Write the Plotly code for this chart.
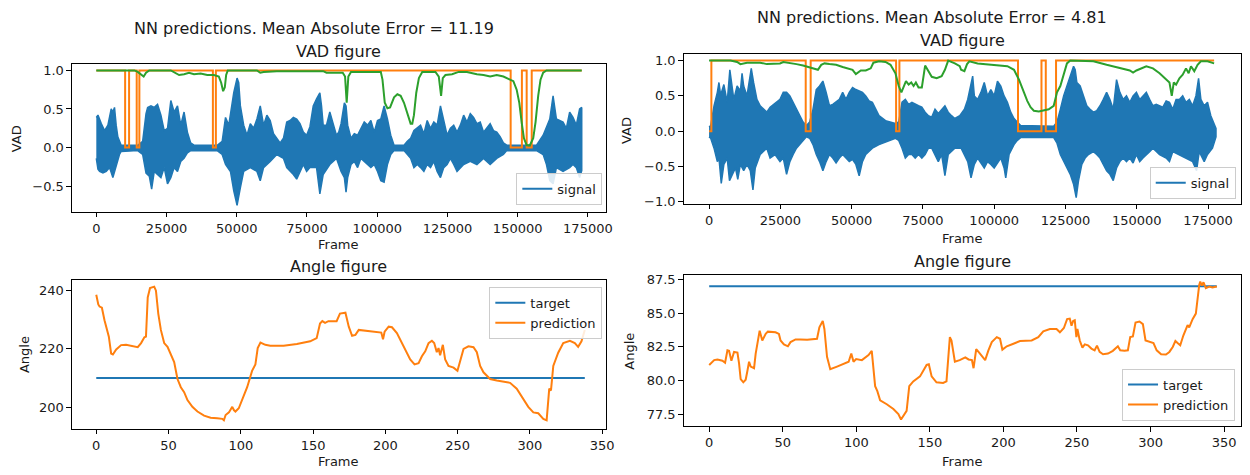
import plotly.graph_objects as go

# ---------------- DATA ----------------
# Left figure (MAE 11.19) - VAD panel: audio signal envelope (frame, value)
L_SIG_UPPER = [(0,0.39),(590,0.42),(1770,0.31),(2950,0.22),(4130,0.29),(5300,0.50),(5900,0.46),(6480,0.52),(7070,0.29),(7660,0.14),(8840,0.03),(14740,0.03),(16500,0.08),(17100,0.29),(17700,0.44),(18270,0.52),(19450,0.54),(20630,0.52),(21800,0.56),(23000,0.42),(24170,0.22),(25350,0.25),(26530,0.61),(27700,0.46),(28900,0.54),(30060,0.29),(31240,0.46),(32420,0.20),(33600,0.06),(34780,0.03),(43030,0.03),(44800,0.08),(46000,0.39),(47160,0.29),(48930,0.71),(50110,0.90),(50700,0.84),(51290,0.54),(52470,0.29),(53640,0.16),(54820,0.31),(56000,0.25),(57180,0.37),(58360,0.54),(59540,0.29),(60720,0.42),(61900,0.35),(63080,0.18),(64260,0.12),(65430,0.06),(66610,0.12),(67790,0.33),(68970,0.35),(70150,0.39),(71330,0.37),(72510,0.31),(73690,0.20),(74870,0.16),(76050,0.27),(77220,0.54),(78400,0.63),(79580,0.71),(80170,0.54),(80760,0.29),(81940,0.29),(83120,0.46),(85480,0.16),(86300,0.20),(87130,0.31),(88300,0.58),(88900,0.54),(89480,0.29),(90660,0.12),(91840,0.18),(93020,0.16),(94200,0.25),(95380,0.33),(96560,0.29),(97740,0.35),(98920,0.20),(100100,0.35),(101280,0.37),(102450,0.54),(103630,0.37),(104810,0.16),(105990,0.03),(109530,0.03),(110710,0.08),(111890,0.12),(113070,0.22),(114250,0.25),(115430,0.29),(116610,0.18),(117790,0.35),(118970,0.25),(120150,0.33),(121330,0.29),(122510,0.54),(123690,0.35),(124870,0.16),(126050,0.25),(127230,0.29),(128410,0.20),(129590,0.29),(130770,0.42),(131950,0.33),(133130,0.44),(134300,0.39),(135480,0.31),(136660,0.33),(137840,0.20),(139020,0.25),(140200,0.31),(141380,0.22),(142560,0.20),(143740,0.14),(144920,0.06),(146100,0.03),(156710,0.03),(159070,0.16),(161430,0.37),(162600,0.67),(163790,0.37),(166150,0.33),(167330,0.25),(168500,0.46),(169690,0.39),(170870,0.29),(172050,0.50),(172800,0.52)]
L_SIG_LOWER = [(0,-0.14),(590,-0.28),(1180,-0.31),(2360,-0.33),(3540,-0.31),(4720,-0.26),(5900,-0.39),(7070,-0.26),(8250,-0.09),(8840,-0.05),(14740,-0.04),(16500,-0.09),(17700,-0.33),(18860,-0.37),(19700,-0.54),(20630,-0.31),(21800,-0.35),(23000,-0.39),(24170,-0.26),(25350,-0.47),(26530,-0.39),(27700,-0.26),(28900,-0.31),(30060,-0.18),(31240,-0.14),(32420,-0.07),(33600,-0.04),(43030,-0.04),(44800,-0.09),(46000,-0.22),(47750,-0.31),(48930,-0.56),(50110,-0.75),(51290,-0.52),(52470,-0.31),(54820,-0.26),(57180,-0.31),(58360,-0.43),(59540,-0.26),(61900,-0.18),(64260,-0.09),(66610,-0.14),(67790,-0.26),(68970,-0.31),(70150,-0.35),(71330,-0.41),(72510,-0.31),(73690,-0.22),(74870,-0.31),(76050,-0.26),(78400,-0.26),(79580,-0.60),(80760,-0.35),(83120,-0.22),(85480,-0.14),(87130,-0.31),(88300,-0.39),(88900,-0.58),(89480,-0.39),(90660,-0.22),(91840,-0.18),(93020,-0.26),(94200,-0.14),(95380,-0.18),(96560,-0.22),(97740,-0.26),(98920,-0.22),(100100,-0.31),(101280,-0.43),(102450,-0.45),(103630,-0.22),(104810,-0.09),(105990,-0.04),(109530,-0.04),(111890,-0.14),(113070,-0.26),(114250,-0.22),(115430,-0.26),(116610,-0.31),(117790,-0.22),(118970,-0.26),(120150,-0.18),(121330,-0.31),(122510,-0.39),(123690,-0.26),(124870,-0.22),(126050,-0.14),(127230,-0.22),(128410,-0.31),(129590,-0.26),(130770,-0.22),(133130,-0.18),(135480,-0.22),(137840,-0.14),(140200,-0.22),(142560,-0.14),(144920,-0.09),(146100,-0.04),(156710,-0.04),(159070,-0.09),(160250,-0.22),(161430,-0.43),(162600,-0.47),(163790,-0.26),(166150,-0.31),(168500,-0.26),(169690,-0.22),(170870,-0.26),(172050,-0.39),(172800,-0.30)]
L_VAD_TRUE = [(0,1),(10260,0),(11670,1),(14380,0),(15330,1),(41500,0),(42560,1),(147500,0),(151500,1),(153200,0),(155000,1),(172800,1)]
L_VAD_PRED = [(0,1.0),(13560,1.0),(14740,0.98),(15920,0.94),(16860,0.92),(17700,0.97),(18860,1.0),(26530,1.0),(28300,0.97),(29480,0.94),(31240,0.95),(33000,0.97),(34780,0.95),(37140,0.96),(39500,0.94),(41860,0.94),(43620,0.92),(44450,0.84),(45150,0.73),(45750,0.78),(46220,0.94),(46800,1.0),(57180,1.0),(58360,0.97),(59540,0.98),(64260,0.99),(80760,0.99),(81940,0.97),(84300,0.97),(87720,0.97),(88550,0.92),(89130,0.58),(89720,0.92),(90660,0.98),(101280,0.98),(101870,0.88),(102690,0.58),(103630,0.51),(104580,0.52),(105990,0.65),(107170,0.69),(108350,0.67),(109530,0.58),(110710,0.44),(111890,0.31),(112480,0.31),(113070,0.42),(113900,0.71),(114840,0.90),(116020,0.98),(120730,0.98),(121920,0.92),(122740,0.67),(123340,0.90),(124280,0.94),(126640,0.95),(129000,0.98),(131950,0.98),(135480,0.95),(137840,0.94),(140200,0.92),(142560,0.94),(144920,0.92),(146690,0.89),(148460,0.86),(149640,0.75),(150580,0.58),(151400,0.33),(152230,0.12),(153180,0.03),(154350,0.03),(155530,0.12),(156360,0.33),(157300,0.67),(158130,0.88),(159070,0.97),(160250,1.0),(172800,1.0)]

# Right figure (MAE 4.81) - VAD panel
R_SIG_UPPER = [(0,0.06),(580,0.08),(1740,0.36),(2900,0.55),(3470,0.69),(4050,0.51),(5200,0.66),(6360,0.41),(7290,0.87),(8100,0.59),(8680,0.45),(9830,0.64),(10990,0.57),(11570,0.82),(12150,0.64),(13300,0.50),(14800,0.89),(15620,0.69),(16780,0.45),(17930,0.36),(19090,0.31),(20250,0.27),(21400,0.34),(22560,0.38),(23720,0.41),(24880,0.45),(26030,0.55),(27190,0.55),(28350,0.50),(29500,0.41),(30660,0.31),(31820,0.22),(32980,0.13),(34130,0.08),(35290,0.13),(36450,0.31),(37600,0.59),(38760,0.64),(39920,0.71),(41070,0.55),(42230,0.36),(43390,0.38),(44550,0.41),(45700,0.45),(46860,0.55),(48020,0.45),(49180,0.55),(50330,0.62),(51490,0.59),(52650,0.57),(53800,0.55),(54960,0.50),(56120,0.43),(57280,0.41),(58430,0.31),(59600,0.22),(61900,0.15),(64210,0.13),(65370,0.11),(66520,0.13),(67680,0.41),(68840,0.45),(70000,0.38),(71150,0.41),(72300,0.38),(73470,0.36),(74630,0.34),(75780,0.27),(76940,0.22),(78100,0.20),(79250,0.31),(80410,0.25),(82720,0.36),(83880,0.27),(85040,0.22),(86200,0.18),(87930,0.22),(89560,0.31),(90720,0.45),(91880,0.64),(92460,0.78),(93040,0.50),(94200,0.45),(95360,0.55),(96520,0.69),(97680,0.50),(98840,0.59),(100000,0.50),(101160,0.71),(102320,0.64),(103480,0.50),(104640,0.41),(105800,0.27),(106960,0.18),(108120,0.13),(109280,0.08),(120880,0.07),(122040,0.13),(123200,0.31),(124360,0.50),(125520,0.64),(126680,0.78),(127840,0.92),(128420,0.87),(129000,0.69),(130160,0.64),(131320,0.50),(132480,0.36),(133640,0.31),(134800,0.27),(135960,0.29),(137120,0.36),(138280,0.45),(139440,0.55),(140600,0.45),(141760,0.31),(142920,0.73),(144080,0.55),(145240,0.45),(146400,0.50),(147560,0.41),(148720,0.50),(149880,0.55),(151040,0.45),(152200,0.50),(153360,0.55),(154520,0.45),(155680,0.36),(156840,0.38),(158000,0.36),(159160,0.34),(160320,0.43),(161480,0.41),(162640,0.31),(163800,0.45),(164960,0.45),(166120,0.50),(167280,0.41),(168440,0.45),(169600,0.36),(170760,0.50),(171690,0.75),(172500,0.45),(173660,0.36),(174820,0.41),(175980,0.22),(177140,0.11),(177800,0.04)]
R_SIG_LOWER = [(0,-0.08),(580,-0.10),(1740,-0.24),(2900,-0.43),(3470,-0.38),(4280,-0.74),(5200,-0.47),(6360,-0.38),(7170,-0.70),(8100,-0.61),(9260,-0.52),(10070,-0.68),(10990,-0.47),(12150,-0.56),(13300,-0.47),(14460,-0.56),(15390,-0.83),(16200,-0.52),(17930,-0.33),(20250,-0.24),(21400,-0.38),(23140,-0.33),(24880,-0.43),(26030,-0.38),(27190,-0.61),(28350,-0.43),(29500,-0.33),(30660,-0.24),(31820,-0.19),(32980,-0.13),(34130,-0.08),(35290,-0.10),(36450,-0.19),(37600,-0.33),(38760,-0.43),(39920,-0.56),(41070,-0.43),(42230,-0.33),(43390,-0.38),(44550,-0.45),(45700,-0.38),(46860,-0.33),(48020,-0.38),(49180,-0.43),(50330,-0.40),(51490,-0.47),(52650,-0.63),(53800,-0.43),(54960,-0.33),(57280,-0.24),(59600,-0.19),(61900,-0.15),(65370,-0.10),(66520,-0.13),(67680,-0.24),(68840,-0.38),(70000,-0.33),(71150,-0.33),(72300,-0.38),(73470,-0.33),(74630,-0.38),(75780,-0.33),(76940,-0.24),(78100,-0.24),(79250,-0.33),(80410,-0.43),(81570,-0.33),(82720,-0.63),(83880,-0.33),(86200,-0.24),(88400,-0.24),(89560,-0.33),(90720,-0.43),(91880,-0.66),(93040,-0.47),(94200,-0.38),(95360,-0.45),(96520,-0.52),(97680,-0.43),(98840,-0.47),(100000,-0.52),(101160,-0.45),(102320,-0.38),(103480,-0.52),(104060,-0.66),(105220,-0.33),(106960,-0.19),(108120,-0.13),(109280,-0.09),(120880,-0.09),(122040,-0.17),(123200,-0.33),(124360,-0.43),(125520,-0.52),(126680,-0.61),(127840,-0.75),(128770,-0.94),(129580,-0.70),(130740,-0.47),(131900,-0.38),(133060,-0.33),(134800,-0.29),(135960,-0.33),(137120,-0.38),(138280,-0.47),(139440,-0.56),(140600,-0.61),(141760,-0.70),(142920,-0.52),(144080,-0.43),(145240,-0.38),(146400,-0.43),(147560,-0.38),(148720,-0.45),(149880,-0.33),(151040,-0.43),(152200,-0.38),(153360,-0.33),(154520,-0.29),(155680,-0.24),(158000,-0.33),(160320,-0.38),(161480,-0.43),(162640,-0.29),(164960,-0.33),(167280,-0.38),(169600,-0.43),(170990,-0.56),(171920,-0.29),(173660,-0.43),(174820,-0.33),(176560,-0.24),(177800,-0.08)]
R_VAD_TRUE = [(0,0),(810,1),(33900,0),(35640,1),(65600,0),(66760,1),(108350,0),(116590,1),(118100,0),(121700,1),(177140,1)]
R_VAD_PRED = [(0,1.0),(7520,1.0),(9830,0.98),(10990,0.95),(13300,0.97),(17930,0.97),(20250,0.95),(24880,0.96),(26030,0.98),(28350,0.97),(30660,0.95),(32980,0.93),(34710,0.91),(36450,0.90),(38180,0.87),(39340,0.94),(40500,0.96),(42230,0.95),(44550,0.94),(46860,0.91),(48600,0.89),(50330,0.87),(51490,0.81),(53220,0.86),(54960,0.86),(56700,0.89),(57630,0.97),(59600,0.99),(61900,0.98),(63640,0.94),(65370,0.82),(66520,0.64),(67450,0.55),(68260,0.64),(69070,0.71),(70000,0.66),(70920,0.69),(71730,0.64),(72540,0.69),(73470,0.62),(74630,0.62),(75780,0.93),(76940,0.85),(78100,0.77),(79830,0.75),(81570,0.78),(82720,0.87),(83880,1.0),(86200,0.96),(87930,0.92),(88400,0.87),(89560,0.85),(90490,0.95),(91300,0.99),(94200,0.96),(100000,0.94),(104640,0.92),(106960,0.87),(108700,0.73),(110440,0.55),(111600,0.43),(112760,0.34),(113920,0.29),(115660,0.28),(117400,0.29),(119140,0.31),(120880,0.36),(122040,0.55),(123200,0.64),(124360,0.82),(125520,0.96),(126680,1.0),(130160,1.0),(134800,0.99),(139440,0.94),(144080,0.89),(147560,0.86),(148720,0.83),(149880,0.86),(153360,0.92),(155680,0.89),(158000,0.82),(160320,0.73),(161480,0.69),(162290,0.50),(162990,0.69),(163800,0.66),(164960,0.75),(166120,0.80),(167280,0.89),(168210,0.82),(169020,0.92),(170180,0.85),(171340,0.94),(172500,0.99),(174820,0.99),(177140,0.96)]

# Angle panels (frame, angle)
L_ANGLE_TARGET = 210
L_ANGLE_LAST = 338
L_ANGLE_PRED = [(0,238.4),(1.4,235.1),(2.3,234.4),(3.9,234.0),(5.7,229.7),(7.6,226.4),(8.7,224.1),(10.3,218.3),(11.5,218.0),(13.8,219.7),(17.2,221.2),(20.6,221.3),(25.2,220.8),(28.7,220.5),(31.0,221.9),(33.3,223.9),(34.4,224.1),(35.6,237.5),(37.2,240.7),(40.1,241.2),(41.3,239.8),(42.9,232.0),(44.7,226.4),(47.0,221.9),(49.3,220.6),(51.6,218.0),(53.9,215.4),(56.2,209.6),(58.5,206.8),(60.8,205.1),(63.1,202.4),(66.5,200.1),(70.0,198.5),(74.6,197.1),(79.1,196.4),(83.7,196.2),(87.2,196.0),(88.3,195.5),(89.5,197.3),(91.8,198.2),(94.1,200.1),(95.2,199.0),(96.3,198.5),(98.6,199.6),(100.9,202.4),(104.4,206.8),(107.8,212.4),(110.1,214.6),(111.7,220.2),(113.6,222.1),(117.0,221.3),(120.4,221.0),(129.6,221.0),(138.8,221.6),(148.0,222.5),(152.5,223.6),(154.8,228.6),(156.4,229.4),(158.3,228.8),(160.6,229.4),(166.3,229.4),(168.6,232.0),(172.4,232.3),(174.7,227.5),(177.0,224.4),(179.3,224.7),(181.6,226.4),(187.4,226.1),(194.3,225.8),(197.2,225.5),(198.4,223.2),(199.5,225.8),(202.3,227.5),(204.6,227.3),(208.0,225.3),(212.6,220.8),(217.2,216.3),(220.2,214.6),(223.0,215.0),(225.3,217.4),(227.6,219.1),(229.9,221.9),(232.2,222.7),(233.8,221.9),(235.6,218.8),(236.8,220.2),(237.9,217.7),(239.8,221.3),(241.4,216.3),(243.7,214.1),(247.2,213.5),(249.9,212.4),(251.8,215.8),(254.1,219.9),(257.5,220.8),(261.0,220.5),(263.3,218.8),(265.6,214.1),(267.9,211.9),(270.2,210.7),(272.5,209.6),(277.1,209.1),(281.7,208.7),(286.3,208.3),(290.9,206.3),(295.5,202.9),(298.9,200.1),(302.4,198.2),(305.8,197.9),(309.3,196.0),(311.6,195.5),(313.4,206.3),(314.6,205.7),(316.2,214.1),(319.6,218.6),(323.1,221.9),(327.7,222.7),(331.1,221.9),(333.4,220.6),(335.7,222.5),(338.0,226.4)]

R_ANGLE_TARGET = 87
R_ANGLE_LAST = 345
R_ANGLE_PRED = [(0,81.15),(1.1,81.27),(3.4,81.51),(5.6,81.56),(9.0,81.47),(10.8,81.32),(12.4,82.24),(13.5,82.2),(15.1,81.47),(16.9,82.12),(19.2,82.07),(20.3,81.27),(21.4,80.1),(23.2,79.86),(24.8,80.05),(25.9,80.66),(27.1,81.39),(28.2,81.03),(30.5,80.91),(31.6,82.0),(33.2,83.22),(34.3,83.7),(36.1,82.97),(38.4,83.46),(39.9,83.63),(45.1,83.58),(47.4,83.46),(48.5,82.97),(50.8,82.68),(53.5,82.54),(55.3,82.85),(58.7,83.05),(62.0,83.05),(66.6,83.02),(73.3,83.1),(74.9,83.95),(77.2,84.43),(78.3,83.83),(80.1,81.76),(82.3,80.83),(86.9,81.03),(91.4,81.27),(94.8,81.39),(96.6,82.0),(98.1,81.39),(99.9,81.59),(103.8,81.51),(108.3,81.88),(110.5,82.2),(112.8,79.57),(114.3,79.2),(116.2,78.52),(120.7,78.23),(125.2,77.87),(128.6,77.5),(130.4,77.09),(132.0,77.38),(134.2,77.74),(136.0,79.57),(138.7,79.93),(143.3,80.3),(147.8,81.15),(149.3,81.2),(151.2,80.3),(154.5,79.86),(159.0,79.81),(161.3,79.93),(162.4,81.51),(163.6,83.22),(164.7,82.97),(167.0,81.39),(170.3,81.51),(174.1,81.71),(176.3,81.56),(178.6,81.51),(179.7,80.91),(181.5,82.32),(183.1,82.12),(185.3,81.81),(187.6,81.51),(189.8,82.24),(192.1,82.85),(195.5,83.22),(197.7,83.1),(199.3,82.29),(202.3,82.54),(206.8,82.73),(211.3,82.93),(219.2,82.97),(223.7,83.22),(227.1,83.66),(231.6,83.83),(236.1,83.83),(238.4,83.58),(241.1,83.9),(243.3,84.56),(245.1,84.6),(246.3,84.07),(247.4,84.43),(248.5,84.48),(249.6,83.22),(250.3,83.83),(251.9,82.97),(253.7,82.44),(255.3,82.68),(257.5,82.61),(259.8,82.37),(262.0,82.24),(263.6,82.59),(265.4,82.12),(267.7,81.95),(271.1,82.0),(274.4,82.2),(277.8,82.54),(279.4,82.24),(282.3,82.2),(284.6,82.24),(286.2,83.22),(288.0,83.27),(289.8,84.31),(292.5,84.38),(294.8,84.19),(296.6,82.97),(299.3,82.9),(302.0,82.78),(304.2,82.24),(307.2,81.95),(310.5,81.93),(312.8,82.12),(315.1,82.49),(316.9,82.93),(318.4,82.78),(320.2,82.61),(322.3,83.34),(325.2,84.12),(326.3,83.95),(328.6,84.56),(330.8,84.97),(332.0,86.38),(333.1,87.11),(333.8,87.35),(334.9,87.06),(336.0,87.3),(337.6,86.87),(339.9,86.99),(342.1,86.92),(345.1,86.99)]

TITLES = ["NN predictions. Mean Absolute Error = 11.19", "NN predictions. Mean Absolute Error = 4.81"]
VAD_X_TICKS = [0, 25000, 50000, 75000, 100000, 125000, 150000, 175000]
L_VAD_Y_TICKS = [-0.5, 0.0, 0.5, 1.0]
L_VAD_Y_LABELS = ["\u22120.5", "0.0", "0.5", "1.0"]
R_VAD_Y_TICKS = [-1.0, -0.5, 0.0, 0.5, 1.0]
R_VAD_Y_LABELS = ["\u22121.0", "\u22120.5", "0.0", "0.5", "1.0"]
ANG_X_TICKS = [0, 50, 100, 150, 200, 250, 300, 350]
L_ANG_Y_TICKS = [200, 220, 240]
R_ANG_Y_TICKS = [77.5, 80.0, 82.5, 85.0, 87.5]
R_ANG_Y_LABELS = ["77.5", "80.0", "82.5", "85.0", "87.5"]

# ---------------- STYLE ----------------
W, H = 1250, 475
BLUE, ORANGE, GREEN = "#1f77b4", "#ff7f0e", "#2ca02c"
FONT = "DejaVu Sans"
TXT = "#1a1a1a"
TICK_SIZE = 13
TITLE_SIZE = 16


def xs(pairs):
    return [p[0] for p in pairs]


def ys(pairs):
    return [p[1] for p in pairs]


def xdom(px0, px1):
    return [px0 / W, min(px1 / W, 1.0)]


def ydom(top, bot):
    return [1 - bot / H, 1 - top / H]


fig = go.Figure()


def add_vad(up, lo, vtrue, vpred, xa, ya, leg):
    fx = xs(up) + xs(lo)[::-1]
    fy = ys(up) + ys(lo)[::-1]
    fig.add_trace(go.Scatter(x=fx, y=fy, fill="toself", fillcolor=BLUE, mode="lines",
                             line=dict(color=BLUE, width=1.5), xaxis=xa, yaxis=ya,
                             showlegend=False, hoverinfo="skip"))
    fig.add_trace(go.Scatter(x=[None], y=[None], mode="lines", name="signal",
                             line=dict(color=BLUE, width=2), xaxis=xa, yaxis=ya,
                             legend=leg, showlegend=True))
    fig.add_trace(go.Scatter(x=xs(vtrue), y=ys(vtrue), mode="lines", line_shape="hv",
                             line=dict(color=ORANGE, width=2), xaxis=xa, yaxis=ya,
                             showlegend=False))
    fig.add_trace(go.Scatter(x=xs(vpred), y=ys(vpred), mode="lines",
                             line=dict(color=GREEN, width=2), xaxis=xa, yaxis=ya,
                             showlegend=False))


def add_angle(pred, target, last, xa, ya, leg):
    fig.add_trace(go.Scatter(x=[0, last], y=[target, target], mode="lines", name="target",
                             line=dict(color=BLUE, width=2), xaxis=xa, yaxis=ya, legend=leg))
    fig.add_trace(go.Scatter(x=xs(pred), y=ys(pred), mode="lines", name="prediction",
                             line=dict(color=ORANGE, width=2), xaxis=xa, yaxis=ya, legend=leg))


add_vad(L_SIG_UPPER, L_SIG_LOWER, L_VAD_TRUE, L_VAD_PRED, "x", "y", "legend")
add_vad(R_SIG_UPPER, R_SIG_LOWER, R_VAD_TRUE, R_VAD_PRED, "x2", "y2", "legend2")
add_angle(L_ANGLE_PRED, L_ANGLE_TARGET, L_ANGLE_LAST, "x3", "y3", "legend3")
add_angle(R_ANGLE_PRED, R_ANGLE_TARGET, R_ANGLE_LAST, "x4", "y4", "legend4")

axis_common = dict(showline=True, linecolor="black", linewidth=1, mirror=True,
                   ticks="outside", ticklen=4.5, tickwidth=1, tickcolor="black",
                   showgrid=False, zeroline=False,
                   tickfont=dict(family=FONT, size=TICK_SIZE, color=TXT))

LX = (72.5, 610)
RX = (688.7, 1250)

fig.update_layout(
    xaxis=dict(domain=xdom(*LX), range=[-8660, 181300], anchor="y",
               tickvals=VAD_X_TICKS, ticktext=[str(v) for v in VAD_X_TICKS], **axis_common),
    yaxis=dict(domain=ydom(62, 213), range=[-0.835, 1.085], anchor="x",
               tickvals=L_VAD_Y_TICKS, ticktext=L_VAD_Y_LABELS, **axis_common),
    xaxis2=dict(domain=xdom(*RX), range=[-8880, 186570], anchor="y2",
                tickvals=VAD_X_TICKS, ticktext=[str(v) for v in VAD_X_TICKS], **axis_common),
    yaxis2=dict(domain=ydom(52, 204.7), range=[-1.028, 1.093], anchor="x2",
                tickvals=R_VAD_Y_TICKS, ticktext=R_VAD_Y_LABELS, **axis_common),
    xaxis3=dict(domain=xdom(*LX), range=[-16.8, 352.4], anchor="y3",
                tickvals=ANG_X_TICKS, ticktext=[str(v) for v in ANG_X_TICKS], **axis_common),
    yaxis3=dict(domain=ydom(282.7, 434), range=[192.6, 243.35], anchor="x3",
                tickvals=L_ANG_Y_TICKS, ticktext=[str(v) for v in L_ANG_Y_TICKS], **axis_common),
    xaxis4=dict(domain=xdom(*RX), range=[-17.3, 361.5], anchor="y4",
                tickvals=ANG_X_TICKS, ticktext=[str(v) for v in ANG_X_TICKS], **axis_common),
    yaxis4=dict(domain=ydom(277.3, 431.3), range=[76.6, 87.84], anchor="x4",
                tickvals=R_ANG_Y_TICKS, ticktext=R_ANG_Y_LABELS, **axis_common),
)

legend_common = dict(bgcolor="rgba(255,255,255,0.85)", bordercolor="#cccccc", borderwidth=1,
                     font=dict(family=FONT, size=TICK_SIZE, color=TXT), traceorder="normal",
                     xref="paper", yref="paper", itemwidth=30)
fig.update_layout(
    legend=dict(x=606.7 / W, y=1 - 205.7 / H, xanchor="right", yanchor="bottom", **legend_common),
    legend2=dict(x=1244.7 / W, y=1 - 199.7 / H, xanchor="right", yanchor="bottom", **legend_common),
    legend3=dict(x=606.7 / W, y=1 - 289.3 / H, xanchor="right", yanchor="top", **legend_common),
    legend4=dict(x=1244 / W, y=1 - 425.7 / H, xanchor="right", yanchor="bottom", **legend_common),
)

# text: (string, center x px, center y px, size, angle)
TEXTS = [
    (TITLES[0], 316, 26.5, TITLE_SIZE, 0),
    ("VAD figure", 341, 49, TITLE_SIZE, 0),
    (TITLES[1], 939, 15, TITLE_SIZE, 0),
    ("VAD figure", 969, 38, TITLE_SIZE, 0),
    ("Frame", 341, 246.5, TICK_SIZE, 0),
    ("Frame", 969, 240.5, TICK_SIZE, 0),
    ("Angle figure", 341, 269, TITLE_SIZE, 0),
    ("Angle figure", 969, 263.5, TITLE_SIZE, 0),
    ("Frame", 341, 467, TICK_SIZE, 0),
    ("Frame", 969, 467, TICK_SIZE, 0),
    ("VAD", 17, 138, TICK_SIZE, -90),
    ("VAD", 631, 130, TICK_SIZE, -90),
    ("Angle", 24, 358, TICK_SIZE, -90),
    ("Angle", 634, 355, TICK_SIZE, -90),
]
for t, px, py, sz, ang in TEXTS:
    fig.add_annotation(text=t, x=px / W, y=1 - py / H, xref="paper", yref="paper",
                       xanchor="center", yanchor="middle", showarrow=False, textangle=ang,
                       font=dict(family=FONT, size=sz, color=TXT))

fig.update_layout(width=W, height=H, autosize=False,
                  margin=dict(l=0, r=0, t=0, b=0, pad=0),
                  paper_bgcolor="white", plot_bgcolor="white",
                  font=dict(family=FONT, color=TXT))

fig.write_html("out.html", config={"displayModeBar": False})
